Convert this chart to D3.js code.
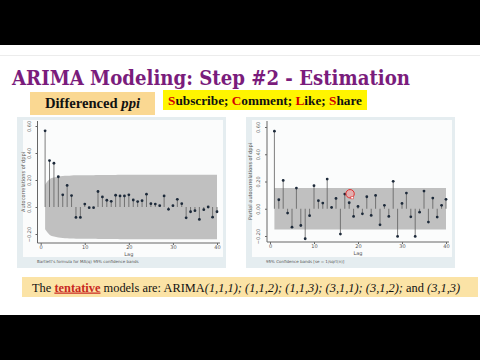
<!DOCTYPE html>
<html>
<head>
<meta charset="utf-8">
<script src="https://cdn.jsdelivr.net/npm/d3@7"></script>
<style>
  html, body { margin: 0; padding: 0; background: #fff; }
  svg { display: block; }
</style>
</head>
<body>
<div id="chart"></div>
<script>
// lags 1..40
const lags = d3.range(1, 41);

// autocorrelations of dppi
const acf = [0.564, 0.344, 0.324, 0.224, 0.09, 0.16, 0.085, -0.077, -0.077, 0.022,
  -0.005, -0.005, 0.115, 0.075, 0.05, 0.042, 0.087, 0.082, 0.082, 0.09,
  0.052, 0.04, 0.047, 0.095, 0.025, 0.022, 0.01, 0.082, -0.017, 0.01,
  0.057, 0.025, -0.08, -0.035, -0.027, -0.092, -0.02, 0.0, -0.075, -0.035];

// Bartlett band half-width per lag
const acfBand = [0.165, 0.205, 0.218, 0.226, 0.23, 0.232, 0.234, 0.235, 0.236, 0.236,
  0.236, 0.236, 0.237, 0.237, 0.237, 0.237, 0.237, 0.238, 0.238, 0.238,
  0.238, 0.238, 0.238, 0.238, 0.238, 0.238, 0.238, 0.238, 0.238, 0.238,
  0.238, 0.238, 0.238, 0.238, 0.238, 0.238, 0.238, 0.238, 0.238, 0.238];

// partial autocorrelations of dppi (right panel)
const pacf = [0.569, 0.066, 0.208, -0.032, -0.135, 0.152, -0.123, -0.22, -0.051, 0.169,
  0.059, 0.042, 0.218, 0.01, 0.076, -0.186, 0.108, 0.044, -0.056, 0.017,
  -0.037, 0.088, -0.049, 0.098, -0.118, 0.025, -0.056, 0.201, -0.203, 0.039,
  0.115, -0.059, -0.203, -0.025, 0.13, -0.098, 0.078, -0.061, 0.025, 0.069];
const pacfBand = 0.153;

const xTicks = [0, 10, 20, 30, 40];
const yTicks = [-0.2, 0, 0.2, 0.4, 0.6];

const models = ["(1,1,1)", "(1,1,2)", "(1,1,3)", "(3,1,1)", "(3,1,2)"];
const lastModel = "(3,1,3)";

const width = 480, height = 360;
const serif = "'Liberation Serif', 'DejaVu Serif', serif";
const sans = "'DejaVu Sans', Arial, sans-serif";

const svg = d3.select("#chart").append("svg")
    .attr("width", width)
    .attr("height", height);

svg.append("rect").attr("width", width).attr("height", height).attr("fill", "#fff");

// black letterbox bars
svg.append("rect").attr("x", 0).attr("y", 0).attr("width", width).attr("height", 45).attr("fill", "#000");
svg.append("rect").attr("x", 0).attr("y", 315).attr("width", width).attr("height", 45).attr("fill", "#000");
svg.append("line").attr("x1", 0).attr("x2", width).attr("y1", 55.5).attr("y2", 55.5)
    .attr("stroke", "#ececec").attr("stroke-width", 1);

// title
svg.append("text")
    .attr("x", 12).attr("y", 85)
    .attr("textLength", 398).attr("lengthAdjust", "spacingAndGlyphs")
    .style("font-family", "'DejaVu Serif', serif")
    .style("font-weight", "bold")
    .style("font-size", "21px")
    .attr("fill", "#7a1c7c")
    .text("ARIMA Modeling: Step #2 - Estimation");

// "Differenced ppi" label
svg.append("rect").attr("x", 30).attr("y", 92).attr("width", 125).attr("height", 23).attr("fill", "#fad892");
const diff = svg.append("text")
    .attr("x", 45).attr("y", 108)
    .attr("textLength", 95).attr("lengthAdjust", "spacingAndGlyphs")
    .style("font-family", serif).style("font-weight", "bold").style("font-size", "14px")
    .attr("fill", "#111");
diff.append("tspan").text("Differenced ");
diff.append("tspan").style("font-style", "italic").text("ppi");

// subscribe banner
svg.append("rect").attr("x", 163).attr("y", 90).attr("width", 204).attr("height", 20).attr("fill", "#fff500");
const sub = svg.append("text")
    .attr("x", 168).attr("y", 104.5)
    .attr("textLength", 194).attr("lengthAdjust", "spacingAndGlyphs")
    .style("font-family", serif).style("font-weight", "bold").style("font-size", "12px")
    .attr("fill", "#111");
[["S", "ubscribe; "], ["C", "omment; "], ["L", "ike; "], ["S", "hare"]].forEach(([a, b]) => {
    sub.append("tspan").attr("fill", "#d40000").text(a);
    sub.append("tspan").text(b);
});

// one correlogram panel
const drawPanel = (opt) => {
    const g = svg.append("g");
    g.append("rect").attr("x", opt.px).attr("y", 117).attr("width", 209).attr("height", 151).attr("fill", "#e5edf0");
    g.append("rect").attr("x", opt.px + 6).attr("y", 120).attr("width", 200).attr("height", 137).attr("fill", "#fbfcfc");

    const x = d3.scaleLinear().domain([0, 40]).range(opt.xRange);
    const y = d3.scaleLinear().domain([-0.2, 0.6]).range(opt.yRange);

    // confidence band
    const area = d3.area()
        .x((d, i) => x(lags[i]))
        .y0((d) => y(-d))
        .y1((d) => y(d))
        .curve(d3.curveMonotoneX);
    g.append("path").datum(opt.band).attr("d", area).attr("fill", "#c0c0c0");

    // spikes
    g.selectAll("line.spike")
        .data(opt.values)
        .join("line")
        .attr("class", "spike")
        .attr("x1", (d, i) => x(lags[i])).attr("x2", (d, i) => x(lags[i]))
        .attr("y1", y(0)).attr("y2", (d) => y(d))
        .attr("stroke", "#5e5e5e").attr("stroke-width", 0.8);
    g.selectAll("circle.pt")
        .data(opt.values)
        .join("circle")
        .attr("class", "pt")
        .attr("cx", (d, i) => x(lags[i]))
        .attr("cy", (d) => y(d))
        .attr("r", 1.4)
        .attr("fill", "#1d2a3a");

    // axes
    const yAxis = g.append("g")
        .attr("transform", `translate(${opt.axisX},0)`)
        .call(d3.axisLeft(y).tickValues(yTicks).tickFormat(d3.format(".2f")).tickSize(2).tickPadding(2));
    yAxis.select(".domain").attr("d", `M0,${opt.yTop}V${opt.axisY}`).attr("stroke", "#666");
    yAxis.selectAll(".tick line").attr("stroke", "#666");
    yAxis.selectAll(".tick text")
        .attr("transform", "rotate(-90)")
        .attr("x", 0).attr("y", -7)
        .attr("dy", "0")
        .attr("text-anchor", "middle")
        .style("font-family", sans).style("font-size", "5px").attr("fill", "#555");

    const xAxis = g.append("g")
        .attr("transform", `translate(0,${opt.axisY})`)
        .call(d3.axisBottom(x).tickValues(xTicks).tickSize(2).tickPadding(0));
    xAxis.select(".domain").attr("d", `M${opt.axisX},0H${opt.xRange[1] + 3}`).attr("stroke", "#666");
    xAxis.selectAll(".tick line").attr("stroke", "#666");
    xAxis.selectAll(".tick text").style("font-family", sans).style("font-size", "5px").attr("fill", "#555");

    g.append("text")
        .attr("x", (opt.xRange[0] + opt.xRange[1]) / 2).attr("y", opt.axisY + 13)
        .attr("text-anchor", "middle")
        .style("font-family", sans).style("font-size", "5px").attr("fill", "#555")
        .text("Lag");
    g.append("text")
        .attr("transform", `translate(${opt.titleX},${(opt.yTop + opt.axisY) / 2}) rotate(-90)`)
        .attr("text-anchor", "middle")
        .style("font-family", sans).style("font-size", "5px").attr("fill", "#555")
        .text(opt.yTitle);
    g.append("text")
        .attr("x", opt.px + 20).attr("y", 263)
        .style("font-family", sans).style("font-size", "4px").attr("fill", "#555")
        .text(opt.note);
    return { x, y, g };
};

drawPanel({
    px: 17, xRange: [40.7, 217], yRange: [234, 126], axisX: 37.5, axisY: 243, yTop: 121,
    titleX: 25, band: acfBand, values: acf,
    yTitle: "Autocorrelations of dppi",
    note: "Bartlett's formula for MA(q) 95% confidence bands"
});

const right = drawPanel({
    px: 246, xRange: [270, 446], yRange: [236, 127], axisX: 267, axisY: 242, yTop: 121,
    titleX: 251.5, band: lags.map(() => pacfBand), values: pacf,
    yTitle: "Partial autocorrelations of dppi",
    note: "95% Confidence bands [se = 1/sqrt(n)]"
});

// red cursor circle on the PACF panel
right.g.append("circle")
    .attr("cx", right.x(18.2)).attr("cy", right.y(0.11))
    .attr("r", 4.2)
    .attr("fill", "rgba(255,160,160,0.55)")
    .attr("stroke", "#e02a2a").attr("stroke-width", 1);
right.g.append("rect")
    .attr("x", right.x(18.4)).attr("y", right.y(0.09))
    .attr("width", 2.4).attr("height", 2.4)
    .attr("fill", "#fff").attr("stroke", "#e02a2a").attr("stroke-width", 0.5);

// bottom note
svg.append("rect").attr("x", 22).attr("y", 277).attr("width", 456).attr("height", 20).attr("fill", "#fbe3a6");
const note = svg.append("text")
    .attr("x", 32).attr("y", 291.5)
    .style("font-family", serif).style("font-size", "12.4px")
    .attr("fill", "#111");
note.append("tspan").text("The ");
note.append("tspan").attr("fill", "#c8281e").style("font-weight", "bold")
    .style("text-decoration", "underline").text("tentative");
note.append("tspan").text(" models are: ARIMA");
models.forEach((m) => {
    note.append("tspan").style("font-style", "italic").text(m + "; ");
});
note.append("tspan").text("and ");
note.append("tspan").style("font-style", "italic").text(lastModel);
</script>
</body>
</html>
